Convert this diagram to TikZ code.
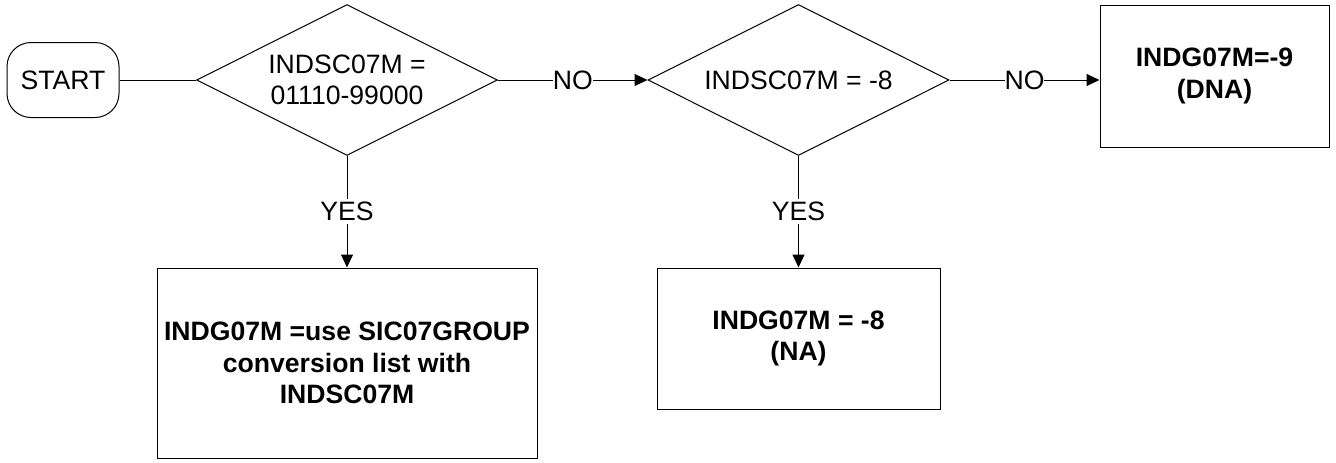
\documentclass[tikz,border=0pt]{standalone}
\usepackage{fontspec}
\setmainfont{Liberation Sans}
\usepackage{tikz}
\usetikzlibrary{arrows.meta, positioning, shapes.geometric}
\tikzset{
  termbox/.style={draw, rounded corners=12pt, minimum width=56pt,
                  minimum height=37.5pt, inner sep=0pt},
  decbox/.style={draw, diamond, aspect=2, minimum width=150.5pt,
                 minimum height=75.5pt, inner sep=0pt, align=center},
  outbox/.style={draw, align=center, inner sep=0pt,
                 font=\fontsize{13.3}{15.75}\selectfont\bfseries},
  arr/.style={-{Triangle[length=6.5pt,width=6pt]}},
  lnk/.style={-},
  lbl/.style={fill=white, inner xsep=0pt, inner ysep=1.5pt},
}
\begin{document}
\begin{tikzpicture}[every node/.style={font=\fontsize{13.3}{15.75}\selectfont},
                    x=0.5pt, y=-0.5pt, line width=0.5pt]
  \useasboundingbox (0,0) rectangle (1336,462);
  \node[termbox] (start) at (63, 80) {START};
  \node[decbox] (chk1) at (347, 80) {INDSC07M =\\01110-99000};
  \node[decbox] (chk2) at (798.5, 80) {INDSC07M = -8};

  \node[outbox, minimum width=190pt, minimum height=95pt] (grp) at (347, 363)
    {INDG07M =use SIC07GROUP\\conversion list with\\INDSC07M};
  \node[outbox, minimum width=141.5pt, minimum height=70.5pt] (na) at (798.5, 338.5)
    {INDG07M = -8\\(NA)};
  \node[outbox, minimum width=114.5pt, minimum height=71pt] (dna) at (1214.5, 76)
    {INDG07M=-9\\(DNA)};

  \draw[lnk] (start) -- (chk1);
  \draw[arr] (chk1) -- node[lbl] {NO} (chk2);
  \draw[arr] (chk2.east) -- node[lbl] {NO} (chk2.east -| dna.west);
  \draw[arr] (chk1) -- node[lbl] {YES} (grp);
  \draw[arr] (chk2) -- node[lbl] {YES} (na);
\end{tikzpicture}
\end{document}
